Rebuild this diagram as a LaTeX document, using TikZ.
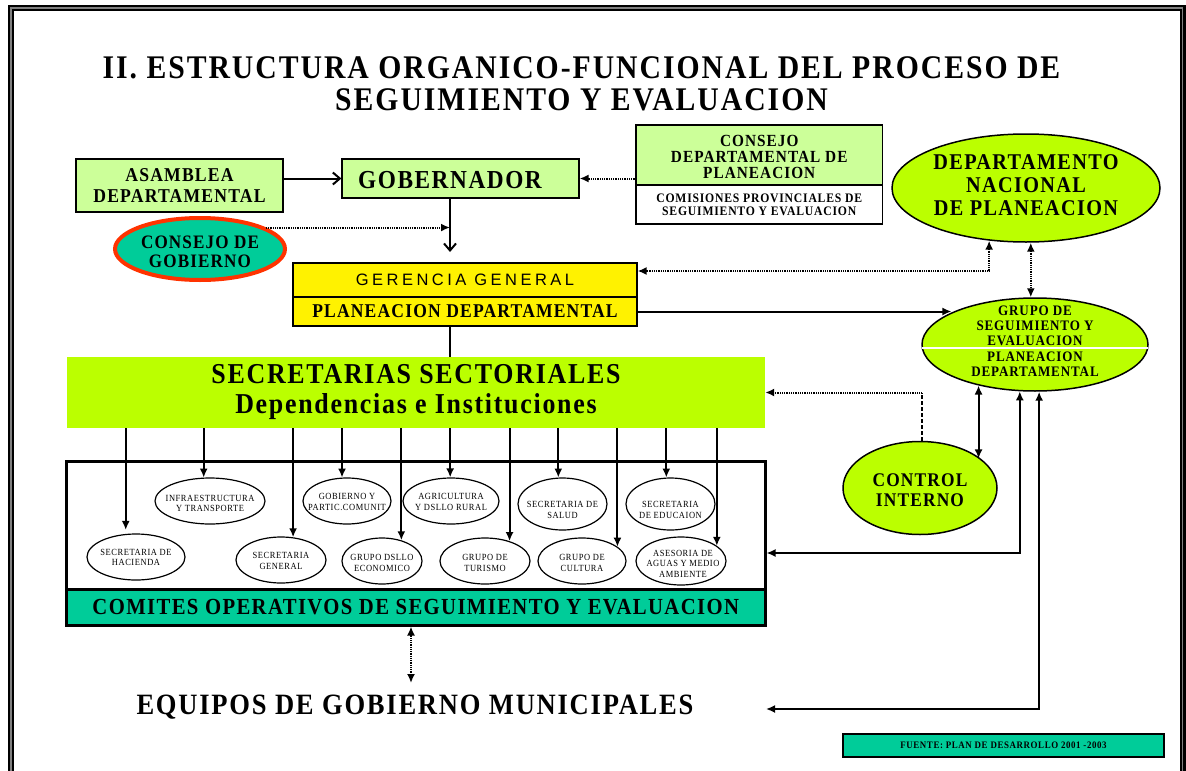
\documentclass[tikz,border=0pt]{standalone}
\usepackage{fontspec}
\setmainfont{Liberation Serif}[FakeStretch=0.9,LetterSpace=6]
\newfontfamily\sansls{Liberation Sans}[LetterSpace=21]
\usetikzlibrary{shapes.geometric,arrows.meta}
\definecolor{lgreen}{HTML}{CCFF99}
\definecolor{limeg}{HTML}{BBFF00}
\definecolor{tealg}{HTML}{00CC99}
\definecolor{ored}{HTML}{FF3300}
\newcommand\fsz[2]{\fontsize{#1}{#2}\selectfont}
\begin{document}
\begin{tikzpicture}[x=1pt,y=-1pt,
  conn/.style={line width=2pt},
  dotl/.style={line width=2pt, dash pattern=on 1pt off 0.8pt},
  dashl/.style={line width=2pt, dash pattern=on 4pt off 2pt},
  tri/.style={-{Latex[length=9pt,width=8pt]}},
  dtri/.style={{Latex[length=9pt,width=8pt]}-{Latex[length=9pt,width=8pt]}},
  vee/.style={-{Straight Barb[length=7pt,width=12pt]}},
  rbox/.style={draw, line width=1.2pt, inner sep=0pt, align=center},
  ebox/.style={ellipse, draw, line width=1.5pt, inner sep=0pt, fill=limeg},
  sell/.style={ellipse, draw, line width=1.2pt, inner sep=0pt, fill=white},
  lbl/.style={inner sep=0pt, align=center},
  stxt/.style={inner sep=0pt, align=center, font=\fsz{9.4}{10.5}}]
\useasboundingbox (0,0) rectangle (1186,771);
\clip (0,0) rectangle (1186,771);
\fill[white] (0,0) rectangle (1186,771);
% frame
\draw[line width=6pt] (11,8) rectangle (1182.5,800);
\draw[line width=1.2pt, gray] (11,8) rectangle (1182.5,800);
% title
\node[lbl, font=\bfseries\fsz{33}{33}] (t1) at (581.5,68) {II. ESTRUCTURA ORGANICO-FUNCIONAL DEL PROCESO DE};
\node[lbl, font=\bfseries\fsz{33}{33}] (t2) at (581.5,100) {SEGUIMIENTO Y EVALUACION};
% top row
\node[rbox, fill=lgreen, minimum width=207pt, minimum height=53pt, font=\bfseries\fsz{19.6}{21}] (asam) at (179.5,185.5) {ASAMBLEA\\DEPARTAMENTAL};
\node[rbox, fill=lgreen, minimum width=237pt, minimum height=39pt] (gob) at (460.5,178.5) {};
\node[lbl, font=\bfseries\fsz{25.9}{26}] (gobt) at (450,180.5) {GOBERNADOR};
\node[rbox, fill=lgreen, minimum width=246.5pt, minimum height=60pt] (cdp) at (759.25,155) {};
\node[lbl, font=\bfseries\fsz{17}{16.3}] (cdpt) at (759.25,157) {CONSEJO\\DEPARTAMENTAL DE\\PLANEACION};
\node[rbox, fill=white, minimum width=246.5pt, minimum height=39pt, font=\bfseries\fsz{13}{13}] (com) at (759.25,204.5) {COMISIONES PROVINCIALES DE\\SEGUIMIENTO Y EVALUACION};
\node[ebox, minimum width=268pt, minimum height=108pt] (dnp) at (1026,188) {};
\node[lbl, font=\bfseries\fsz{22.5}{23}] (dnpt) at (1026,185) {DEPARTAMENTO\\NACIONAL\\DE PLANEACION};
\node[ellipse, draw=ored, line width=4pt, fill=tealg, inner sep=0pt, minimum width=170pt, minimum height=62pt] (cg) at (200,249) {};
\node[lbl, font=\bfseries\fsz{19}{19}] (cgt) at (200,251.5) {CONSEJO DE\\GOBIERNO};
% gerencia
\node[rbox, fill=yellow, minimum width=344pt, minimum height=34pt, font=\sansls\fsz{16.5}{16.5}] (ger) at (465,280) {GERENCIA GENERAL};
\node[rbox, fill=yellow, minimum width=344pt, minimum height=29pt, font=\bfseries\fsz{19.5}{19.5}] (plan) at (465,311.5) {PLANEACION DEPARTAMENTAL};
% grupo
\node[ebox, minimum width=226pt, minimum height=93pt] (grupo) at (1035,344.5) {};
\draw[white, line width=1.5pt, shorten <=1pt, shorten >=1pt] ([yshift=-3.5pt]grupo.west) -- ([yshift=-3.5pt]grupo.east);
\node[lbl, font=\bfseries\fsz{14.5}{15.25}] (grupot) at (1035,341) {GRUPO DE\\SEGUIMIENTO Y\\EVALUACION\\PLANEACION\\DEPARTAMENTAL};
% secretarias
\node[inner sep=0pt, fill=limeg, minimum width=698pt, minimum height=71pt, align=center, font=\bfseries\fsz{28.8}{30}] (sec) at (416,392.5) {SECRETARIAS SECTORIALES\\Dependencias e Instituciones};
\node[ebox, minimum width=154pt, minimum height=93pt] (ctrl) at (920,488) {};
\node[lbl, font=\bfseries\fsz{19.3}{20}] (ctrlt) at (920,490) {CONTROL\\INTERNO};
% operative box
\node[draw, fill=white, line width=3pt, inner sep=0pt, minimum width=698.5pt, minimum height=164pt] (opsbox) at (415.75,543) {};
\node[draw, fill=tealg, line width=3pt, inner sep=0pt, minimum width=698.5pt, minimum height=36pt, font=\bfseries\fsz{23}{23}] (comites) at (415.75,607) {COMITES OPERATIVOS DE SEGUIMIENTO Y EVALUACION};
% small ellipses
\node[sell, minimum width=110pt, minimum height=46pt] (infra) at (210,501) {};
\node[sell, minimum width=88pt, minimum height=46pt] (gobp) at (347,501) {};
\node[sell, minimum width=96pt, minimum height=46pt] (agri) at (451,501) {};
\node[sell, minimum width=89pt, minimum height=52pt] (salud) at (562.5,504) {};
\node[sell, minimum width=89pt, minimum height=52pt] (educ) at (670.5,504) {};
\node[sell, minimum width=98pt, minimum height=46pt] (hac) at (136,557) {};
\node[sell, minimum width=90pt, minimum height=46pt] (secg) at (281,560) {};
\node[sell, minimum width=80pt, minimum height=46pt] (gde) at (382,561) {};
\node[sell, minimum width=90pt, minimum height=46pt] (tur) at (485,561) {};
\node[sell, minimum width=88pt, minimum height=46pt] (cul) at (582,561) {};
\node[sell, minimum width=90pt, minimum height=48pt] (ases) at (681,561) {};
\node[stxt] (infrat) at (210,503.3) {INFRAESTRUCTURA\\Y TRANSPORTE};
\node[stxt] (gobpt) at (347,501.7) {GOBIERNO Y\\PARTIC.COMUNIT};
\node[stxt] (agrit) at (451,502) {AGRICULTURA\\Y DSLLO RURAL};
\node[stxt] (saludt) at (562.5,510) {SECRETARIA DE\\SALUD};
\node[stxt] (educt) at (670.5,510) {SECRETARIA\\DE EDUCAION};
\node[stxt] (hact) at (136,557.5) {SECRETARIA DE\\HACIENDA};
\node[stxt] (secgt) at (281,561) {SECRETARIA\\GENERAL};
\node[stxt] (gdet) at (382,563) {GRUPO DSLLO\\ECONOMICO};
\node[stxt] (turt) at (485,563) {GRUPO DE\\TURISMO};
\node[stxt] (cult) at (582,563) {GRUPO DE\\CULTURA};
\node[stxt] (asest) at (683,563.5) {ASESORIA DE\\AGUAS Y MEDIO\\AMBIENTE};
% bottom
\node[lbl, font=\bfseries\fsz{29.5}{29.5}] (equipos) at (415,707) {EQUIPOS DE GOBIERNO MUNICIPALES};
\node[draw, line width=1.2pt, fill=tealg, inner sep=0pt, minimum width=321pt, minimum height=23pt, font=\bfseries\fsz{9.9}{9.9}] (fuente) at (1003.5,745.5) {FUENTE: PLAN DE DESARROLLO 2001 -2003};
% connectors
\draw[conn, vee] (asam.east |- gob.west) -- (gob.west);
\draw[dotl, tri] (cdp.west |- gob.east) -- (gob.east);
\coordinate (gobdown) at (450,252);
\draw[conn, vee] (gobt |- gob.south) -- (gobdown);
\draw[dotl, tri] (cg.18) -- (cg.18 -| gobdown);
\draw[dotl, dtri] (dnp.235) |- ([yshift=9pt]ger.east);
\draw[dotl, dtri] (dnp.275) -- (dnp.275 |- grupo.96);
\draw[conn, tri] (plan.east) -- (plan.east -| grupo.159);
\draw[conn] (gobt |- plan.south) -- (gobt |- sec.north);
\draw[dashl] (ctrl.88) -- (ctrl.88 |- sec.east);
\draw[dotl, tri] (ctrl.88 |- sec.east) -- (sec.east);
\draw[conn, dtri] (grupo.216) -- (grupo.216 |- ctrl.26);
\draw[conn, dtri] (grupo.252) |- ([yshift=-10pt]opsbox.east);
\coordinate (eqin) at (766,709);
\draw[conn, dtri] (grupo.275) |- (eqin);
\coordinate (eqtop) at (411,683);
\draw[dotl, dtri] (comites.south -| eqtop) -- (eqtop);
% secretarias to ellipses
\foreach \n/\a in {infra/105, gobp/102, agri/92, salud/99, educ/99, secg/62, gde/47, tur/39, cul/22, ases/23}
  \draw[conn, tri] (sec.south -| \n.\a) -- (\n.\a);
\draw[conn, tri, shorten >=4pt] (sec.south -| hac.114) -- (hac.114);
\end{tikzpicture}
\end{document}
